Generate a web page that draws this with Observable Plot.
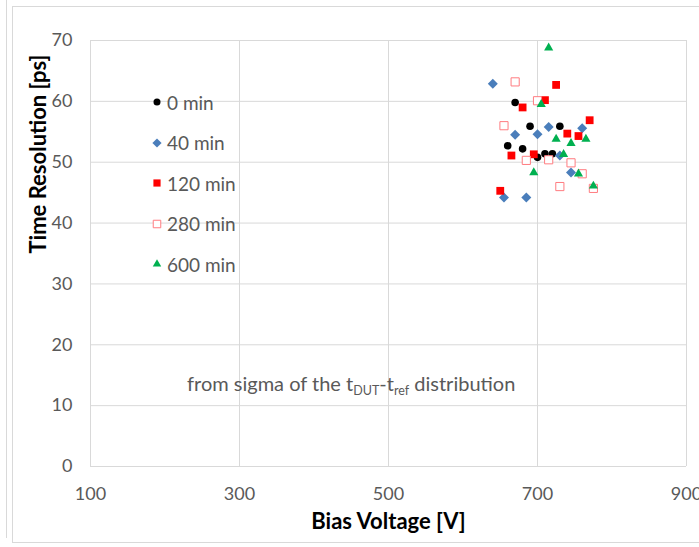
<!DOCTYPE html>
<html>
<head>
<meta charset="utf-8">
<script src="https://cdn.jsdelivr.net/npm/d3@7"></script>
<script src="https://cdn.jsdelivr.net/npm/@observablehq/plot@0.6"></script>
<style>
  body { margin: 0; background: #fff; overflow: hidden; font-family: Lato, sans-serif; }
  #wrap { position: relative; width: 699px; height: 547px; overflow: hidden; }
  #wrap svg { position: absolute; left: 0; top: 0; }
  .vline { position: absolute; left: 6px; top: 0; height: 538px; border-left: 1px solid #d9d9d9; }
  .frame { position: absolute; left: 12px; top: 6px; width: 720px; height: 535px; border: 1px solid #d9d9d9; }
  .legend { position: absolute; left: 150px; top: 90px; font-size: 19px; color: #595959; }
  .legend .row { position: absolute; left: 0; height: 24px; display: flex; align-items: center; white-space: nowrap; }
  .legend svg { position: static !important; margin-right: 3px; }
  .note { position: absolute; left: 187px; top: 371px; font-size: 20px; color: #595959; white-space: nowrap; }
  .note sub { font-size: 12.5px; vertical-align: -4px; }
</style>
</head>
<body>
<div id="wrap">
  <div class="vline"></div>
  <div class="frame"></div>
</div>
<script>
// Axis ticks
const xTicks = [100, 300, 500, 700, 900];
const yTicks = [0, 10, 20, 30, 40, 50, 60, 70];

// Annealing time series: bias voltage [V] and time resolution [ps]
const seriesNames = ["0 min", "40 min", "120 min", "280 min", "600 min"];

const volts0 = [660, 670, 680, 690, 700, 710, 720, 730];
const res0   = [52.7, 59.8, 52.2, 55.9, 50.8, 51.4, 51.4, 55.9];

const volts40 = [640, 655, 670, 685, 700, 715, 730, 745, 760];
const res40   = [62.9, 44.2, 54.5, 44.2, 54.6, 55.8, 51.1, 48.3, 55.6];

const volts120 = [650, 665, 680, 695, 710, 725, 740, 755, 770];
const res120   = [45.3, 51.1, 59.0, 51.3, 60.2, 62.7, 54.7, 54.3, 56.9];

const volts280 = [655, 670, 685, 700, 715, 730, 745, 760, 775];
const res280   = [56.0, 63.2, 50.3, 60.1, 50.4, 46.0, 49.9, 48.1, 45.7];

const volts600 = [695, 705, 715, 725, 735, 745, 755, 765, 775];
const res600   = [48.3, 59.5, 68.8, 53.8, 51.3, 53.1, 48.1, 53.8, 46.1];

const toRows = (vs, ts) => vs.map((v, i) => ({v, t: ts[i]}));

// Marker style per series
const styles = [
  {symbol: "circle",   fill: "#000000", stroke: "none",    r: 3.8},
  {symbol: "diamond2", fill: "#4a7ebb", stroke: "none",    r: 4.5},
  {symbol: "square",   fill: "#ff0000", stroke: "none",    r: 4.4},
  {symbol: "square",   fill: "#ffffff", stroke: "#ff7c80", r: 4.6},
  {symbol: "triangle", fill: "#00b050", stroke: "none",    r: 3.4}
];
const allRows = [
  toRows(volts0, res0),
  toRows(volts40, res40),
  toRows(volts120, res120),
  toRows(volts280, res280),
  toRows(volts600, res600)
];

const grid = "#d9d9d9";

const chart = Plot.plot({
  width: 699,
  height: 547,
  marginLeft: 90,
  marginRight: 13,
  marginTop: 40,
  marginBottom: 81,
  style: {fontFamily: "Lato, sans-serif", fontSize: "18px", color: "#595959", background: "transparent", overflow: "visible"},
  x: {domain: [100, 900]},
  y: {domain: [0, 70]},
  marks: [
    Plot.gridX(xTicks, {stroke: grid, strokeOpacity: 1}),
    Plot.gridY(yTicks, {stroke: grid, strokeOpacity: 1}),
    Plot.axisX(xTicks, {tickSize: 0, tickPadding: 21, label: null, fill: "#595959", fontSize: 18}),
    Plot.axisY(yTicks, {tickSize: 0, tickPadding: 18, label: null, fill: "#595959", fontSize: 18}),
    Plot.text(["Bias Voltage [V]"], {frameAnchor: "bottom", dy: 62, fontWeight: "bold", fontSize: 22, fill: "#000"}),
    Plot.text(["Time Resolution [ps]"], {frameAnchor: "left", dx: -52, rotate: -90, fontWeight: "bold", fontSize: 22, fill: "#000"}),
    ...allRows.map((rows, i) => Plot.dot(rows, {
      x: "v", y: "t",
      symbol: styles[i].symbol,
      r: styles[i].r,
      fill: styles[i].fill,
      stroke: styles[i].stroke,
      strokeWidth: 1
    }))
  ]
});
document.getElementById("wrap").appendChild(chart);

// Legend inside the plot area
const legend = document.createElement("div");
legend.className = "legend";
seriesNames.forEach((name, i) => {
  const row = document.createElement("div");
  row.className = "row";
  row.style.top = (i * 40.5) + "px";
  const s = styles[i];
  const svg = d3.create("svg").attr("width", 14).attr("height", 14);
  const sym = {circle: d3.symbolCircle, diamond2: d3.symbolDiamond2, square: d3.symbolSquare, triangle: d3.symbolTriangle}[s.symbol];
  svg.append("path")
    .attr("transform", "translate(7,7)")
    .attr("d", d3.symbol(sym, Math.PI * s.r * s.r * 0.85)())
    .attr("fill", s.fill)
    .attr("stroke", s.stroke);
  row.appendChild(svg.node());
  const label = document.createElement("span");
  label.textContent = name;
  row.appendChild(label);
  legend.appendChild(row);
});
document.getElementById("wrap").appendChild(legend);

// Annotation
const note = document.createElement("div");
note.className = "note";
note.innerHTML = "from sigma of the t<sub>DUT</sub>-t<sub>ref</sub> distribution";
document.getElementById("wrap").appendChild(note);
</script>
</body>
</html>
